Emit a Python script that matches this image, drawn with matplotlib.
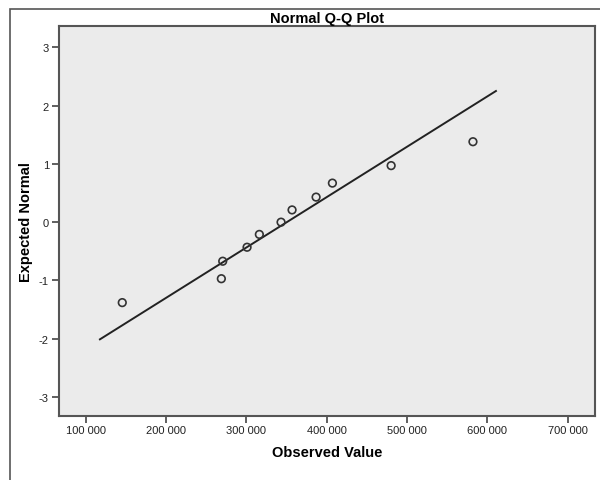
import matplotlib
matplotlib.use("Agg")
import matplotlib.pyplot as plt
from matplotlib.patches import Rectangle
from matplotlib.ticker import FuncFormatter

# observed values and their expected normal scores
observed = [145600, 268900, 270600, 300900, 316200, 343200,
            356900, 386800, 407100, 480200, 582000]
expected = [-1.38, -0.97, -0.67, -0.43, -0.21, 0.0,
            0.21, 0.43, 0.67, 0.97, 1.38]

# reference line end points
line_x = [117800, 610600]
line_y = [-2.01, 2.25]

x_ticks = [100000, 200000, 300000, 400000, 500000, 600000, 700000]
y_ticks = [-3, -2, -1, 0, 1, 2, 3]

plt.rcParams["font.family"] = ["Liberation Sans", "DejaVu Sans"]
plt.rcParams["axes.unicode_minus"] = False

fig = plt.figure(figsize=(6, 4.81), dpi=100)
fig.patches.append(Rectangle((10 / 600, -0.1), 1.2, (481 - 10) / 481 + 0.1,
                             transform=fig.transFigure, fill=False,
                             edgecolor="#555555", linewidth=1.2))

ax = fig.add_axes([58.7 / 600, (481 - 416.7) / 481, 536 / 600, 389.4 / 481])
ax.set_facecolor("#ebebeb")

ax.plot(line_x, line_y, color="#222222", linewidth=1.4)
ax.scatter(observed, expected, s=30, facecolors="none",
           edgecolors="#333333", linewidths=1.2, zorder=3)

ax.set_xlim(66500, 733500)
ax.set_ylim(-3.32, 3.36)
ax.set_xticks(x_ticks)
ax.set_yticks(y_ticks)
ax.xaxis.set_major_formatter(FuncFormatter(lambda v, p: f"{int(v):,}".replace(",", " ")))
ax.tick_params(direction="out", length=5, width=1.2, color="#444444",
               labelsize=8, labelcolor="#222222", pad=2)

for s in ax.spines.values():
    s.set_color("#555555")
    s.set_linewidth(1.5)

ax.set_title("Normal Q-Q Plot", fontsize=10.5, fontweight="bold", pad=3)
ax.set_xlabel("Observed Value", fontsize=10.5, fontweight="bold")
ax.set_ylabel("Expected Normal", fontsize=10.5, fontweight="bold")
ax.yaxis.set_label_coords(-0.048, 0.5)
ax.xaxis.set_label_coords(0.5, -0.075)

fig.savefig("out.png", dpi=100)
